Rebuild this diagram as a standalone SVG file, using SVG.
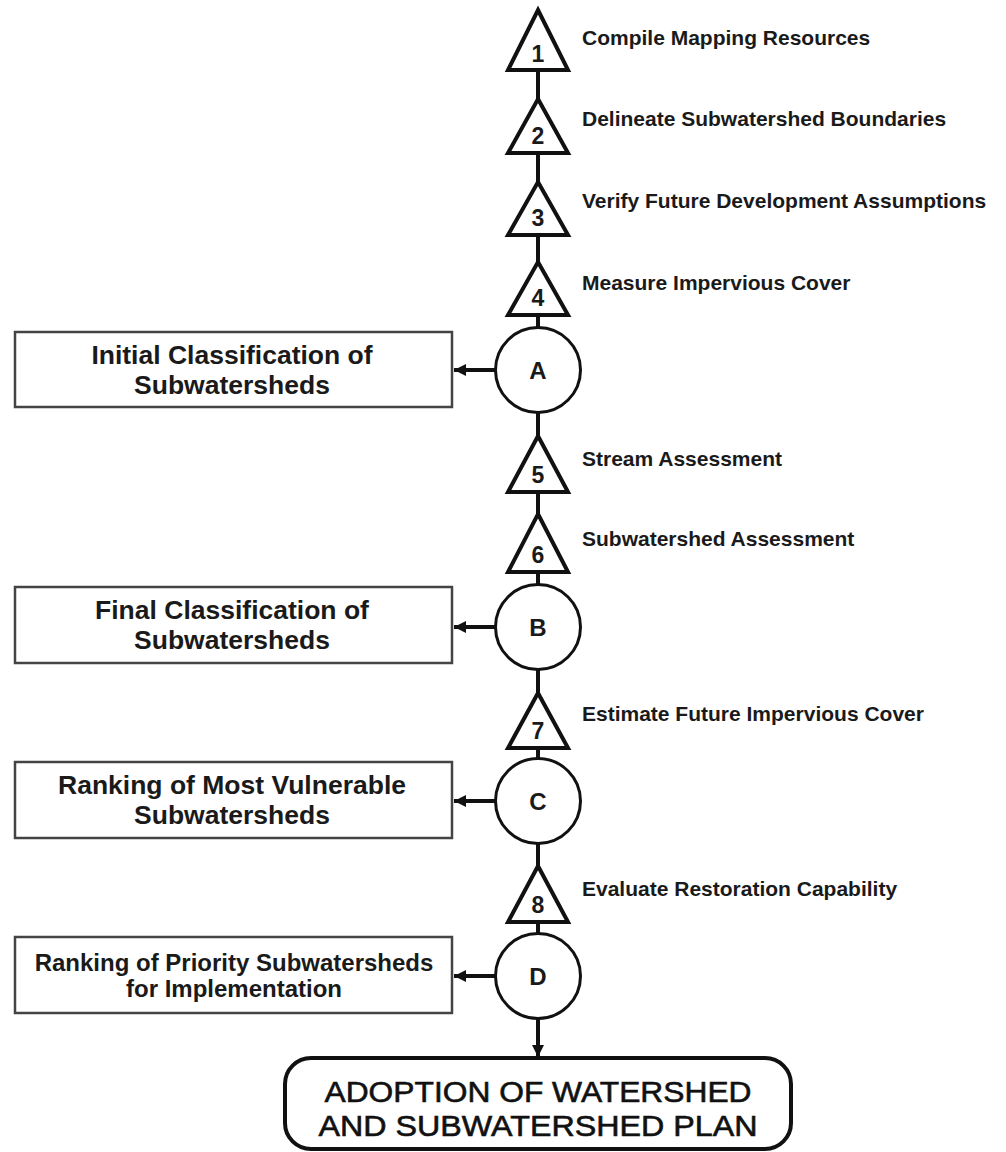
<svg xmlns="http://www.w3.org/2000/svg" width="1006" height="1152" viewBox="0 0 1006 1152">
<defs>
<style>
.tri{fill:#fff;stroke:#111;stroke-width:4;stroke-linejoin:miter}
.circ{fill:#fff;stroke:#111;stroke-width:3}
.box{fill:#fff;stroke:#444;stroke-width:2.5}
.final{fill:#fff;stroke:#111;stroke-width:4}
.num{font-family:"Liberation Sans",Arial,sans-serif;font-weight:bold;font-size:23px;fill:#1a1a1a;text-anchor:middle}
.let{font-family:"Liberation Sans",Arial,sans-serif;font-weight:bold;font-size:24px;fill:#1a1a1a;text-anchor:middle}
.lab{font-family:"Liberation Sans",Arial,sans-serif;font-weight:bold;font-size:21px;fill:#1a1a1a}
.bt{font-family:"Liberation Sans",Arial,sans-serif;font-weight:bold;font-size:26.5px;fill:#1a1a1a;text-anchor:middle}
.bt2{font-family:"Liberation Sans",Arial,sans-serif;font-weight:bold;font-size:24px;fill:#1a1a1a;text-anchor:middle}
.ft{font-family:"Liberation Sans",Arial,sans-serif;font-size:29.5px;fill:#111;stroke:#111;stroke-width:0.6;text-anchor:middle}
.ln{stroke:#111;stroke-width:4;fill:none}
</style>
<marker id="ah" viewBox="0 0 10 10" refX="10" refY="5" markerWidth="3" markerHeight="3" orient="auto" markerUnits="strokeWidth">
<path d="M0,0 L10,5 L0,10 z" fill="#111"/>
</marker>
</defs>
<rect width="1006" height="1152" fill="#fff"/>

<g id="connectors">
<line class="ln" x1="538" y1="70" x2="538" y2="99"/>
<line class="ln" x1="538" y1="153" x2="538" y2="182"/>
<line class="ln" x1="538" y1="235" x2="538" y2="262"/>
<line class="ln" x1="538" y1="315" x2="538" y2="328"/>
<line class="ln" x1="538" y1="412" x2="538" y2="436"/>
<line class="ln" x1="538" y1="492" x2="538" y2="514"/>
<line class="ln" x1="538" y1="572" x2="538" y2="585"/>
<line class="ln" x1="538" y1="669" x2="538" y2="693"/>
<line class="ln" x1="538" y1="748" x2="538" y2="759"/>
<line class="ln" x1="538" y1="843" x2="538" y2="866"/>
<line class="ln" x1="538" y1="922" x2="538" y2="934"/>
<line class="ln" x1="496" y1="370" x2="454" y2="370" marker-end="url(#ah)"/>
<line class="ln" x1="496" y1="627" x2="454" y2="627" marker-end="url(#ah)"/>
<line class="ln" x1="496" y1="801" x2="454" y2="801" marker-end="url(#ah)"/>
<line class="ln" x1="496" y1="976" x2="454" y2="976" marker-end="url(#ah)"/>
<line class="ln" x1="538" y1="1018" x2="538" y2="1057" marker-end="url(#ah)"/>
</g>

<g id="step1"><polygon class="tri" points="538,10 568,70 508,70"/><text class="num" x="538" y="62">1</text><text class="lab" x="582" y="45">Compile Mapping Resources</text></g>
<g id="step2"><polygon class="tri" points="538,99 568,153 508,153"/><text class="num" x="538" y="144">2</text><text class="lab" x="582" y="126">Delineate Subwatershed Boundaries</text></g>
<g id="step3"><polygon class="tri" points="538,182 568,235 508,235"/><text class="num" x="538" y="226">3</text><text class="lab" x="582" y="208">Verify Future Development Assumptions</text></g>
<g id="step4"><polygon class="tri" points="538,262 568,315 508,315"/><text class="num" x="538" y="306">4</text><text class="lab" x="582" y="290">Measure Impervious Cover</text></g>

<g id="nodeA"><circle class="circ" cx="538" cy="370" r="42.5"/><text class="let" x="538" y="379">A</text></g>
<g id="boxA"><rect class="box" x="15" y="332" width="437" height="75"/><text class="bt" x="232" y="364">Initial Classification of</text><text class="bt" x="232" y="394">Subwatersheds</text></g>

<g id="step5"><polygon class="tri" points="538,436 568,492 508,492"/><text class="num" x="538" y="483">5</text><text class="lab" x="582" y="466">Stream Assessment</text></g>
<g id="step6"><polygon class="tri" points="538,514 568,572 508,572"/><text class="num" x="538" y="563">6</text><text class="lab" x="582" y="546">Subwatershed Assessment</text></g>

<g id="nodeB"><circle class="circ" cx="538" cy="627" r="42.5"/><text class="let" x="538" y="636">B</text></g>
<g id="boxB"><rect class="box" x="15" y="587" width="437" height="76"/><text class="bt" x="232" y="619">Final Classification of</text><text class="bt" x="232" y="649">Subwatersheds</text></g>

<g id="step7"><polygon class="tri" points="538,693 568,748 508,748"/><text class="num" x="538" y="739">7</text><text class="lab" x="582" y="721">Estimate Future Impervious Cover</text></g>

<g id="nodeC"><circle class="circ" cx="538" cy="801" r="42.5"/><text class="let" x="538" y="810">C</text></g>
<g id="boxC"><rect class="box" x="15" y="762" width="437" height="76"/><text class="bt" x="232" y="794">Ranking of Most Vulnerable</text><text class="bt" x="232" y="824">Subwatersheds</text></g>

<g id="step8"><polygon class="tri" points="538,866 568,922 508,922"/><text class="num" x="538" y="913">8</text><text class="lab" x="582" y="896">Evaluate Restoration Capability</text></g>

<g id="nodeD"><circle class="circ" cx="538" cy="976" r="42.5"/><text class="let" x="538" y="985">D</text></g>
<g id="boxD"><rect class="box" x="15" y="937" width="437" height="76"/><text class="bt2" x="234" y="971">Ranking of Priority Subwatersheds</text><text class="bt2" x="234" y="997">for Implementation</text></g>

<g id="final"><rect class="final" x="285" y="1058" width="506" height="91" rx="26" ry="26"/><text class="ft" x="538" y="1102" textLength="427" lengthAdjust="spacingAndGlyphs">ADOPTION OF WATERSHED</text><text class="ft" x="538" y="1136" textLength="439" lengthAdjust="spacingAndGlyphs">AND SUBWATERSHED PLAN</text></g>
</svg>
